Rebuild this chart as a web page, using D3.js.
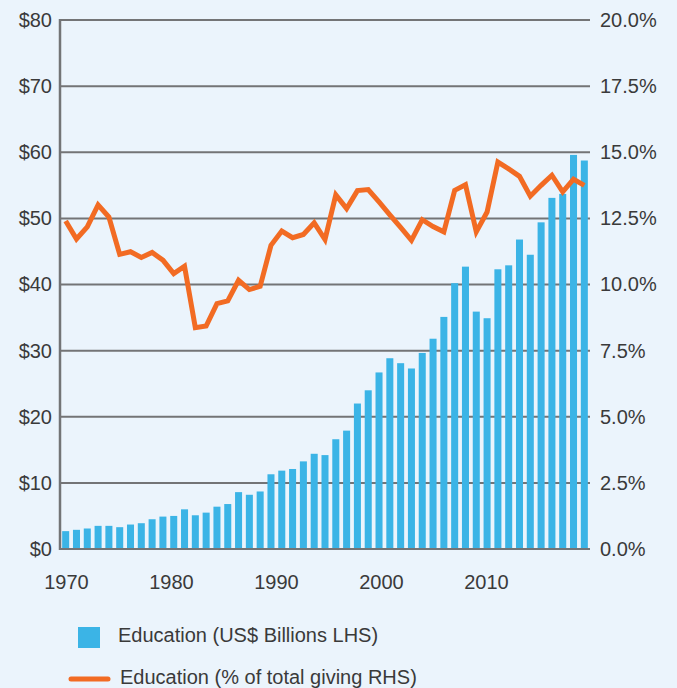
<!DOCTYPE html>
<html lang="en">
<head>
    <meta charset="UTF-8">
    <title>Education giving</title>
    <style>
        body { margin: 0; background: #ebf4fc; }
        svg { display: block; }
        text { font-family: "Liberation Sans", Arial, sans-serif; fill: #3a3a3a; }
    </style>
</head>
<script src="https://cdn.jsdelivr.net/npm/d3@7"></script>
<body>
    <svg></svg>
</body>

<script>
    // years 1970..2018
    var years = d3.range(1970, 2019)

    // Education, US$ billions (left axis)
    var dollars = [
        2.7, 2.9, 3.1, 3.5, 3.5, 3.3, 3.7, 3.9, 4.5, 4.9,
        5.0, 6.0, 5.1, 5.5, 6.4, 6.8, 8.6, 8.2, 8.7, 11.3,
        11.85, 12.1, 13.25, 14.4, 14.2, 16.6, 17.9, 22.0, 24.0, 26.7,
        28.85, 28.1, 27.3, 29.65, 31.8, 35.1, 40.2, 42.7, 35.9, 34.9,
        42.3, 42.9, 46.8, 44.5, 49.4, 53.1, 53.7, 59.6, 58.75
    ]

    // Education, % of total giving (right axis)
    var share = [
        12.40, 11.72, 12.18, 13.01, 12.55, 11.14, 11.24, 11.02, 11.21, 10.92,
        10.41, 10.69, 8.37, 8.43, 9.28, 9.38, 10.16, 9.81, 9.93, 11.48,
        12.02, 11.77, 11.89, 12.33, 11.70, 13.39, 12.87, 13.55, 13.59, 13.12,
        12.63, 12.16, 11.67, 12.45, 12.19, 11.99, 13.56, 13.77, 11.99, 12.74,
        14.63, 14.37, 14.09, 13.34, 13.75, 14.13, 13.50, 13.98, 13.75
    ]

    var leftTicks = [0, 10, 20, 30, 40, 50, 60, 70, 80]
    var rightTicks = [0, 2.5, 5, 7.5, 10, 12.5, 15, 17.5, 20]
    var yearTicks = [1970, 1980, 1990, 2000, 2010]

    var legendItems = ["Education (US$ Billions LHS)", "Education (% of total giving RHS)"]

    var barColor = "#3bb4e6"
    var lineColor = "#f26b23"
    var gridColor = "#737476"

    var svg = d3.select("svg")
                .attr("width", 677)
                .attr("height", 688)

    svg.append("rect")
        .attr("width", 677)
        .attr("height", 688)
        .attr("fill", "#ebf4fc")

    const x = d3.scaleBand()
                .domain(years)
                .range([60, 590])
                .paddingInner(0.35)
                .paddingOuter(0.2)

    // tick labels sit on their own year scale
    const xLabel = d3.scaleLinear()
                .domain([1970, 2010])
                .range([66, 486])

    const yLeft = d3.scaleLinear()
                .domain([0, 80])
                .range([549, 20])

    const yRight = d3.scaleLinear()
                .domain([0, 20])
                .range([549, 20])

    // gridlines
    svg.append("g")
        .selectAll("line")
        .data(leftTicks)
        .join("line")
        .attr("x1", 60)
        .attr("x2", 590)
        .attr("y1", d => yLeft(d))
        .attr("y2", d => yLeft(d))
        .attr("stroke", gridColor)
        .attr("stroke-width", 2)

    // bars
    svg.append("g")
        .selectAll("rect")
        .data(dollars)
        .join("rect")
        .attr("x", (d, i) => x(years[i]))
        .attr("width", x.bandwidth())
        .attr("y", d => yLeft(d))
        .attr("height", d => yLeft(0) - yLeft(d) - 1)
        .attr("fill", barColor)

    // left axis line
    svg.append("line")
        .attr("x1", 60)
        .attr("x2", 60)
        .attr("y1", 19)
        .attr("y2", 550)
        .attr("stroke", gridColor)
        .attr("stroke-width", 2.5)

    // left labels
    var leftAxis = svg.append("g")
                    .attr("transform", "translate(52,0)")
                    .call(d3.axisLeft(yLeft).tickValues(leftTicks).tickFormat(d => "$" + d).tickSize(0).tickPadding(0))
    leftAxis.select(".domain").remove()
    leftAxis.selectAll("text")
        .attr("font-size", 20)
        .attr("font-family", null)
        .attr("fill", null)

    // right labels
    var rightAxis = svg.append("g")
                    .attr("transform", "translate(600,0)")
                    .call(d3.axisRight(yRight).tickValues(rightTicks).tickFormat(d => d.toFixed(1) + "%").tickSize(0).tickPadding(0))
    rightAxis.select(".domain").remove()
    rightAxis.selectAll("text")
        .attr("font-size", 20)
        .attr("font-family", null)
        .attr("fill", null)

    // year labels
    var bottomAxis = svg.append("g")
                    .attr("transform", "translate(0,575)")
                    .call(d3.axisBottom(xLabel).tickValues(yearTicks).tickFormat(d3.format("d")).tickSize(0).tickPadding(0))
    bottomAxis.select(".domain").remove()
    bottomAxis.selectAll("text")
        .attr("font-size", 20)
        .attr("font-family", null)
        .attr("fill", null)

    // share line
    var line = d3.line()
                .x((d, i) => x(years[i]) + x.bandwidth() / 2)
                .y(d => yRight(d))

    svg.append("path")
        .datum(share)
        .attr("d", line)
        .attr("fill", "none")
        .attr("stroke", lineColor)
        .attr("stroke-width", 5)
        .attr("stroke-linejoin", "miter")
        .attr("stroke-miterlimit", 3)

    // legend
    svg.append("rect")
        .attr("x", 78)
        .attr("y", 627)
        .attr("width", 22)
        .attr("height", 21)
        .attr("fill", barColor)

    svg.append("line")
        .attr("x1", 71)
        .attr("x2", 108)
        .attr("y1", 679)
        .attr("y2", 679)
        .attr("stroke", lineColor)
        .attr("stroke-width", 5)
        .attr("stroke-linecap", "round")

    svg.selectAll(".legend")
        .data(legendItems)
        .join("text")
        .attr("class", "legend")
        .attr("x", (d, i) => i == 0 ? 118 : 120)
        .attr("y", (d, i) => i == 0 ? 642 : 684)
        .attr("font-size", 20)
        .text(d => d)
</script>
</html>
